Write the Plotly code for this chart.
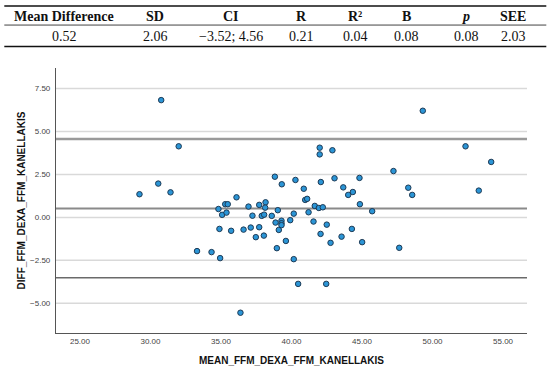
import plotly.graph_objects as go

# ---- data ----
mean_ffm = [30.76, 32.00, 30.55, 29.22, 31.42, 33.30, 38.82, 39.31, 40.28, 42.00,
            42.00, 42.90, 40.87, 42.08, 43.05, 44.82, 43.67, 44.35, 44.02, 40.97,
            41.11, 44.85, 45.72, 36.10, 34.82, 35.30, 35.48, 35.08, 35.39, 36.95,
            37.23, 37.71, 38.16, 38.13, 37.89, 38.06, 38.60, 39.03, 40.16, 41.21,
            41.65, 41.94, 42.22, 34.89, 35.72, 36.60, 37.11, 37.71, 37.47, 38.04,
            38.87, 39.29, 39.29, 39.29, 39.10, 39.91, 39.60, 38.96, 40.16, 41.56,
            42.50, 42.06, 42.77, 43.55, 44.28, 45.01, 34.33, 34.94, 40.47, 42.46,
            36.38, 47.23, 49.31, 52.34, 54.16, 48.28, 48.56, 53.28, 47.64]
diff_ffm = [6.83, 4.14, 1.97, 1.35, 1.46, -1.96, 2.37, 1.93, 2.18, 4.06,
            3.67, 3.91, 1.67, 2.06, 2.28, 2.30, 1.75, 1.48, 1.31, 1.02,
            1.08, 0.77, 0.36, 1.17, 0.49, 0.77, 0.77, 0.15, 0.28, 0.63,
            0.10, 0.73, 0.88, 0.57, 0.09, 0.16, 0.09, 0.42, 0.22, 0.30,
            0.67, 0.55, 0.59, -0.67, -0.78, -0.71, -0.59, -0.57, -1.15, -1.06,
            -0.30, -0.19, -0.34, -0.45, -0.73, -0.16, -1.37, -1.79, -2.43, -0.24,
            -0.42, -0.96, -1.48, -1.12, -0.67, -1.44, -2.02, -2.37, -3.87, -3.87,
            -5.55, 2.70, 6.21, 4.14, 3.23, 1.73, 1.31, 1.56, -1.77]

mean_difference = 0.52
upper_loa = 4.56
lower_loa = -3.52

table_headers = ["Mean Difference", "SD", "CI", "R", "R²", "B", "<i>p</i>", "SEE"]
table_values = ["0.52", "2.06", "\u22123.52; 4.56", "0.21", "0.04", "0.08", "0.08", "2.03"]

x_ticks = [25, 30, 35, 40, 45, 50, 55]
y_ticks = [-5, -2.5, 0, 2.5, 5, 7.5]

# ---- layout geometry (pixels) ----
W, H = 550, 372
L, R, T, B = 55.7, 526.7, 68, 333.3
def px(x):
    return (x - L) / (R - L)
def py(y):
    return (B - y) / (B - T)

col_centers = [64, 155, 231, 301, 355, 406, 466, 513]

fig = go.Figure()

shapes = []
for v in y_ticks:
    shapes.append(dict(type="line", xref="paper", yref="y", x0=0, x1=1, y0=v, y1=v,
                       line=dict(color="#d9d9d9", width=1.5), layer="below"))
shapes.append(dict(type="line", xref="paper", yref="y", x0=0, x1=1, y0=upper_loa, y1=upper_loa,
                   line=dict(color="#9a9a9a", width=2.5), layer="below"))
shapes.append(dict(type="line", xref="paper", yref="y", x0=0, x1=1, y0=mean_difference, y1=mean_difference,
                   line=dict(color="#8a8a8a", width=2), layer="below"))
shapes.append(dict(type="line", xref="paper", yref="y", x0=0, x1=1, y0=lower_loa, y1=lower_loa,
                   line=dict(color="#6a6a6a", width=1.5), layer="below"))
for yy, w in [(6, 1.6), (25, 0.8), (46.5, 1.6)]:
    shapes.append(dict(type="line", xref="paper", yref="paper", x0=px(4), x1=px(546),
                       y0=py(yy), y1=py(yy), line=dict(color="#111111", width=w)))

fig.add_trace(go.Scatter(
    x=mean_ffm, y=diff_ffm, mode="markers",
    marker=dict(size=5.5, color="#2b95d6", line=dict(color="#1d3a55", width=1)),
    showlegend=False, hoverinfo="x+y"))

annotations = []
for cx, h, v in zip(col_centers, table_headers, table_values):
    annotations.append(dict(xref="paper", yref="paper", x=px(cx), y=py(16), text=f"<b>{h}</b>",
                            showarrow=False, xanchor="center", yanchor="middle",
                            font=dict(family="Liberation Serif, serif", size=14, color="#111111")))
    annotations.append(dict(xref="paper", yref="paper", x=px(cx), y=py(36), text=v,
                            showarrow=False, xanchor="center", yanchor="middle",
                            font=dict(family="Liberation Serif, serif", size=14, color="#111111")))

fig.update_layout(
    width=W, height=H,
    margin=dict(l=L, r=W - R, t=T, b=H - B, pad=0),
    paper_bgcolor="white", plot_bgcolor="white",
    shapes=shapes, annotations=annotations,
    xaxis=dict(range=[23.3, 56.7], tickvals=x_ticks, tickformat=".2f", automargin=False,
               showgrid=False, zeroline=False, showline=True, linecolor="#555555", linewidth=1.2,
               ticks="", tickfont=dict(family="Liberation Sans, Arial", size=8, color="#444444"),
               title=dict(text="<b>MEAN_FFM_DEXA_FFM_KANELLAKIS</b>", standoff=12,
                          font=dict(family="Liberation Sans, Arial", size=10, color="#111111"))),
    yaxis=dict(range=[-6.73, 8.7], tickvals=y_ticks, tickformat=".2f", automargin=False,
               showgrid=False, zeroline=False, showline=True, linecolor="#555555", linewidth=1.2,
               ticks="", ticklabelstandoff=3,
               tickfont=dict(family="Liberation Sans, Arial", size=8, color="#444444"),
               title=dict(text="<b>DIFF_FFM_DEXA_FFM_KANELLAKIS</b>", standoff=2,
                          font=dict(family="Liberation Sans, Arial", size=10, color="#111111"))),
)

fig.write_html("out.html", config={"displayModeBar": False},
               post_script="document.body.style.margin='0';")
